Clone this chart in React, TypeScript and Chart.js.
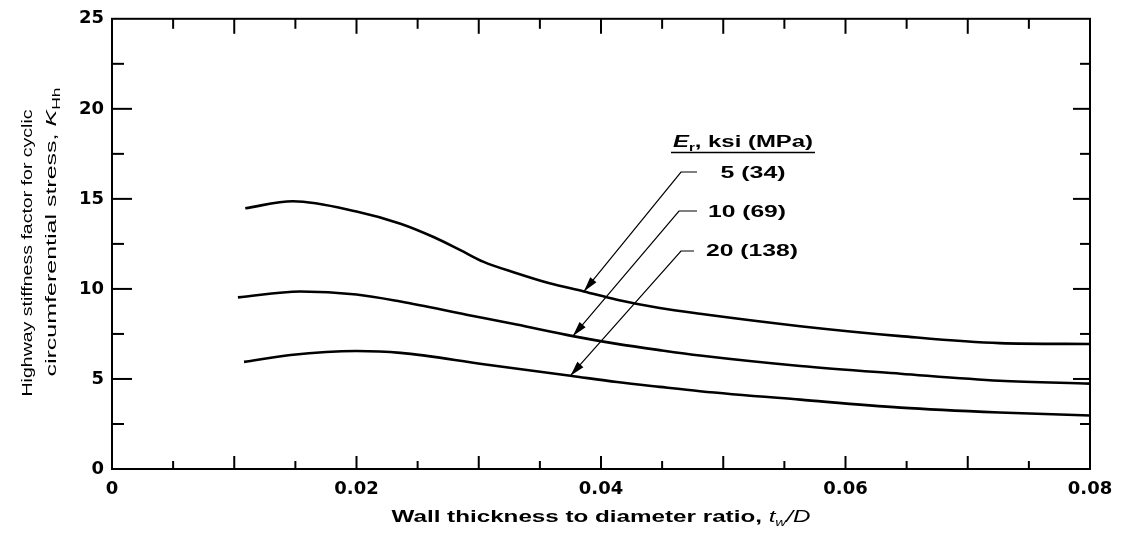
import React, { useEffect, useRef } from 'react';
import { Chart, registerables } from 'chart.js';

Chart.register(...registerables);

// ---------- data ----------
const xMin = 0;
const xMax = 0.08;
const yMin = 0;
const yMax = 25;
const xTickStep = 0.005;
const yTickStep = 2.5;
const xLabelledTicks = [0, 0.02, 0.04, 0.06, 0.08];
const xMajorTicks = [0.01, 0.02, 0.03, 0.04, 0.05, 0.06, 0.07];
const yLabelledTicks = [0, 5, 10, 15, 20, 25];

const seriesLabels = ['5 (34)', '10 (69)', '20 (138)'];

const er5X = [0.0109, 0.0148, 0.02, 0.0236, 0.0263, 0.0285, 0.0304, 0.0331, 0.0358, 0.0386, 0.0413, 0.0448, 0.0481, 0.0563, 0.0645, 0.0726, 0.08];
const er5Y = [14.48, 14.87, 14.3, 13.62, 12.88, 12.15, 11.5, 10.87, 10.31, 9.86, 9.4, 8.94, 8.62, 7.93, 7.38, 6.99, 6.94];

const er10X = [0.0103, 0.0154, 0.02, 0.0236, 0.029, 0.0331, 0.0377, 0.0413, 0.0448, 0.0481, 0.0563, 0.0645, 0.0726, 0.08];
const er10Y = [9.53, 9.86, 9.69, 9.3, 8.57, 8.02, 7.38, 6.95, 6.6, 6.3, 5.72, 5.29, 4.9, 4.74];

const er20X = [0.0108, 0.0146, 0.02, 0.0236, 0.0304, 0.0375, 0.0413, 0.0448, 0.0481, 0.0563, 0.0645, 0.0726, 0.08];
const er20Y = [5.95, 6.33, 6.55, 6.45, 5.82, 5.18, 4.83, 4.56, 4.32, 3.85, 3.41, 3.14, 2.97];

// arrow tips of the legend leaders (data coordinates)
const arrowTipX = [0.0386, 0.0377, 0.0375];
const arrowTipY = [9.86, 7.38, 5.18];

const xTitle = 'Wall thickness to diameter ratio, ';
const yTitleLine1 = 'Highway stiffness factor for cyclic';
const yTitleLine2 = 'circumferential stress, ';
const legendTitle = ', ksi (MPa)';

// ---------- helpers ----------
const SANS = '"Liberation Sans", Arial, Helvetica, sans-serif';

type Run = { text: string; font: string; dy?: number };

function drawRuns(
  ctx: CanvasRenderingContext2D,
  runs: Run[],
  cx: number,
  baseline: number,
  targetWidth: number,
  rotation = 0
) {
  ctx.save();
  let total = 0;
  const widths = runs.map((r) => {
    ctx.font = r.font;
    const w = ctx.measureText(r.text).width;
    total += w;
    return w;
  });
  const s = targetWidth / total;
  ctx.translate(cx, baseline);
  ctx.rotate(rotation);
  ctx.scale(s, 1);
  ctx.textBaseline = 'alphabetic';
  ctx.textAlign = 'left';
  ctx.fillStyle = '#000';
  let x = -total / 2;
  runs.forEach((r, i) => {
    ctx.font = r.font;
    ctx.fillText(r.text, x, r.dy || 0);
    x += widths[i];
  });
  ctx.restore();
}

const near = (v: number, list: number[]) => list.some((t) => Math.abs(t - v) < 1e-7);

const framePlugin = {
  id: 'frameAndText',
  afterDraw(chart: any) {
    const { ctx, chartArea: a, scales } = chart;
    const xs = scales.x;
    const ys = scales.y;
    ctx.save();
    ctx.strokeStyle = '#000';
    ctx.lineWidth = 2;
    ctx.lineCap = 'butt';
    ctx.strokeRect(a.left, a.top, a.right - a.left, a.bottom - a.top);

    const seg = (x1: number, y1: number, x2: number, y2: number) => {
      ctx.beginPath();
      ctx.moveTo(x1, y1);
      ctx.lineTo(x2, y2);
      ctx.stroke();
    };

    xs.ticks.forEach((t: any) => {
      const v = t.value;
      if (v <= xMin + 1e-9 || v >= xMax - 1e-9) return;
      const major = near(v, xMajorTicks);
      const px = xs.getPixelForValue(v);
      seg(px, a.bottom, px, a.bottom - (major ? 13 : 8));
      seg(px, a.top, px, a.top + (major ? 15 : 10));
    });
    ys.ticks.forEach((t: any) => {
      const v = t.value;
      if (v <= yMin + 1e-9 || v >= yMax - 1e-9) return;
      const major = near(v, yLabelledTicks);
      const py = ys.getPixelForValue(v);
      seg(a.left, py, a.left + (major ? 20 : 12), py);
      seg(a.right, py, a.right - (major ? 17 : 10), py);
    });

    // axis titles
    drawRuns(
      ctx,
      [
        { text: xTitle, font: `bold 16px ${SANS}` },
        { text: 't', font: `italic 16px ${SANS}` },
        { text: 'w', font: `italic 10px ${SANS}`, dy: 4 },
        { text: '/D', font: `italic 16px ${SANS}` },
      ],
      (a.left + a.right) / 2,
      522,
      419
    );
    drawRuns(ctx, [{ text: yTitleLine1, font: `15px ${SANS}` }], 32, 253, 287, -Math.PI / 2);
    drawRuns(
      ctx,
      [
        { text: yTitleLine2, font: `15px ${SANS}` },
        { text: 'K', font: `italic 15px ${SANS}` },
        { text: 'Hh', font: `10.5px ${SANS}`, dy: 3.5 },
      ],
      56,
      232,
      289,
      -Math.PI / 2
    );

    // legend block
    drawRuns(
      ctx,
      [
        { text: 'E', font: `italic bold 16px ${SANS}` },
        { text: 'r', font: `bold 10px ${SANS}`, dy: 4 },
        { text: legendTitle, font: `bold 16px ${SANS}` },
      ],
      743,
      147,
      140
    );
    ctx.lineWidth = 1.6;
    seg(671, 152.5, 815, 152.5);

    const labelCx = [753, 747, 752];
    const labelW = [65, 78, 92];
    const labelBase = [178, 217, 256];
    const leaderStart = [697, 697, 694];
    const leaderElbow = [681, 679, 681];
    const leaderY = [172, 211, 251];
    seriesLabels.forEach((lab, i) => {
      drawRuns(ctx, [{ text: lab, font: `bold 16px ${SANS}` }], labelCx[i], labelBase[i], labelW[i]);
      const tx = xs.getPixelForValue(arrowTipX[i]);
      const ty = ys.getPixelForValue(arrowTipY[i]);
      const ex = leaderElbow[i];
      const ey = leaderY[i];
      ctx.lineWidth = 1.2;
      ctx.beginPath();
      ctx.moveTo(leaderStart[i], ey);
      ctx.lineTo(ex, ey);
      ctx.lineTo(tx, ty);
      ctx.stroke();
      // arrow head
      const ang = Math.atan2(ty - ey, tx - ex);
      const L = 15;
      const W = 4;
      const bx = tx - L * Math.cos(ang);
      const by = ty - L * Math.sin(ang);
      ctx.beginPath();
      ctx.moveTo(tx, ty);
      ctx.lineTo(bx + W * Math.sin(ang), by - W * Math.cos(ang));
      ctx.lineTo(bx - W * Math.sin(ang), by + W * Math.cos(ang));
      ctx.closePath();
      ctx.fillStyle = '#000';
      ctx.fill();
    });
    ctx.restore();
  },
};

const toPoints = (xv: number[], yv: number[]) => xv.map((x, i) => ({ x, y: yv[i] }));

export default function App() {
  const ref = useRef<HTMLCanvasElement | null>(null);

  useEffect(() => {
    if (!ref.current) return;
    const lineStyle = {
      borderColor: '#000',
      borderWidth: 2.6,
      pointRadius: 0,
      fill: false,
      cubicInterpolationMode: 'monotone' as const,
    };
    const chart = new Chart(ref.current, {
      type: 'line',
      data: {
        datasets: [
          { label: seriesLabels[0], data: toPoints(er5X, er5Y), ...lineStyle },
          { label: seriesLabels[1], data: toPoints(er10X, er10Y), ...lineStyle },
          { label: seriesLabels[2], data: toPoints(er20X, er20Y), ...lineStyle },
        ],
      },
      options: {
        animation: false,
        responsive: true,
        maintainAspectRatio: false,
        layout: { padding: { top: 15, right: 46, left: 0, bottom: 0 } },
        plugins: { legend: { display: false }, tooltip: { enabled: false } },
        scales: {
          x: {
            type: 'linear',
            min: xMin,
            max: xMax,
            grid: { display: false, drawTicks: false },
            border: { display: false },
            ticks: {
              stepSize: xTickStep,
              autoSkip: false,
              maxRotation: 0,
              padding: 10,
              color: '#000',
              font: { family: '"DejaVu Sans", sans-serif', weight: 'bold', size: 18 },
              callback: (v: any) => {
                const n = Number(v);
                if (!near(n, xLabelledTicks)) return '';
                return n === 0 ? '0' : n.toFixed(2);
              },
            },
            afterFit: (s: any) => {
              s.height = 64;
            },
          },
          y: {
            min: yMin,
            max: yMax,
            grid: { display: false, drawTicks: false },
            border: { display: false },
            ticks: {
              stepSize: yTickStep,
              autoSkip: false,
              padding: 8,
              color: '#000',
              font: { family: '"DejaVu Sans", sans-serif', weight: 'bold', size: 18 },
              callback: (v: any) => {
                const n = Number(v);
                return near(n, yLabelledTicks) ? String(Math.round(n)) : '';
              },
            },
            afterFit: (s: any) => {
              s.width = 112;
            },
          },
        },
      },
      plugins: [framePlugin],
    });
    return () => chart.destroy();
  }, []);

  return (
    <div style={{ position: 'fixed', left: 0, top: 0, width: 1136, height: 533, background: '#fff' }}>
      <canvas ref={ref} />
    </div>
  );
}
